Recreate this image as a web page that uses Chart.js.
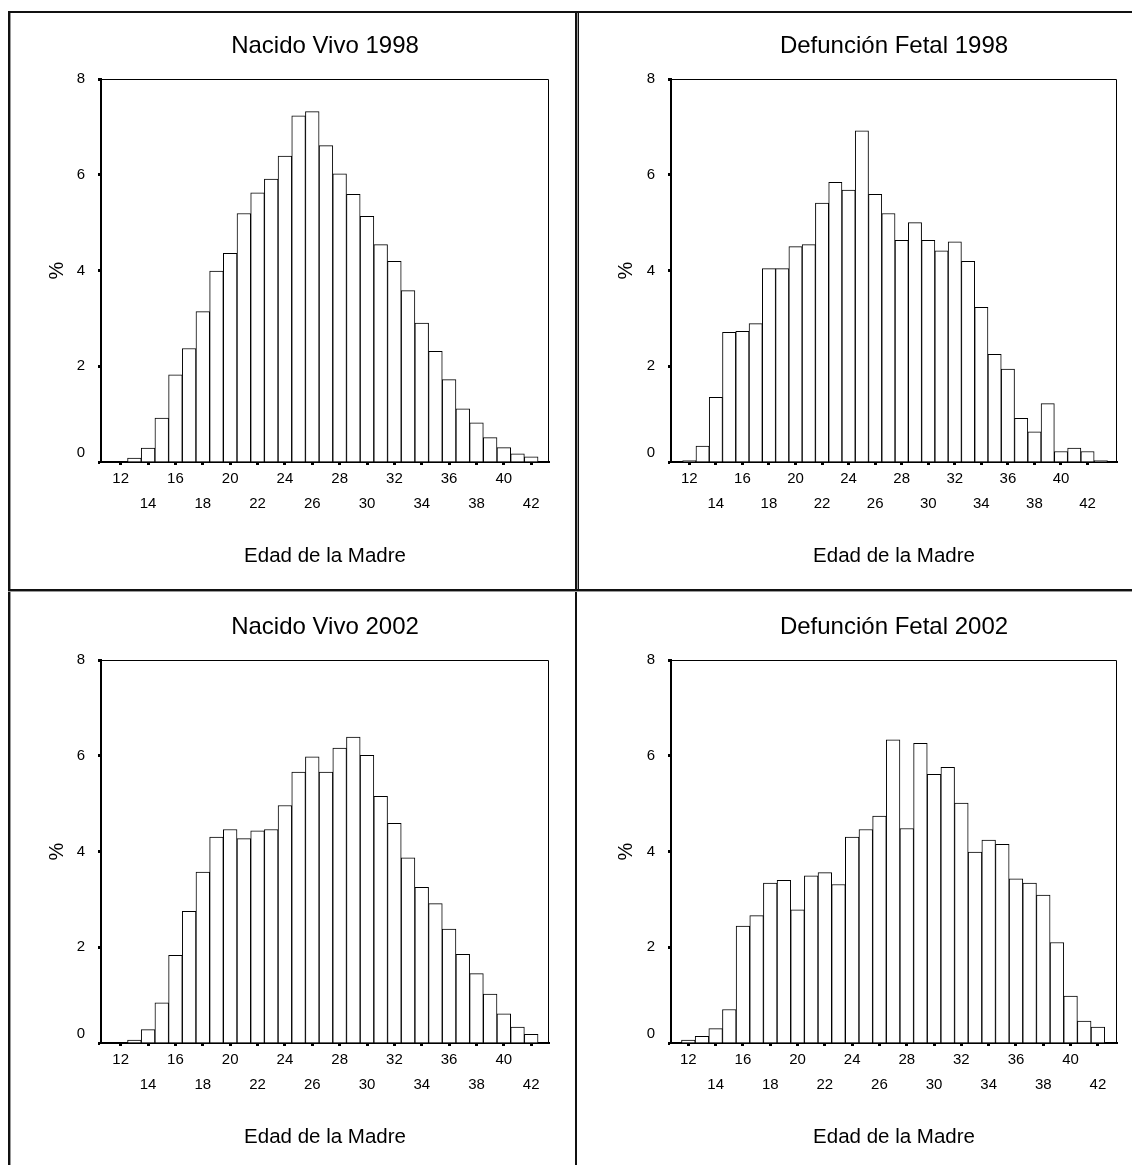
<!DOCTYPE html>
<html>
<head>
<meta charset="utf-8">
<script src="https://cdn.jsdelivr.net/npm/chart.js@4.4.1/dist/chart.umd.min.js"></script>
<style>
html,body{margin:0;padding:0;background:#fff;}
body{width:1132px;height:1165px;position:relative;overflow:hidden;}
canvas{position:absolute;}
.ln{position:absolute;background:#111;}
.gr{position:absolute;background:#999;}
</style>
</head>
<body>
<div class="ln" style="left:8px;top:11px;width:1124px;height:2px"></div>
<div class="ln" style="left:8px;top:11px;width:2px;height:1154px"></div>
<div class="gr" style="left:10px;top:13px;width:1px;height:1152px"></div>
<div class="ln" style="left:575px;top:11px;width:2px;height:1154px"></div>
<div class="gr" style="left:577px;top:13px;width:1px;height:576px"></div>
<div class="ln" style="left:578px;top:11px;width:1px;height:578px"></div>
<div class="ln" style="left:8px;top:589px;width:1124px;height:2px"></div>
<div class="gr" style="left:8px;top:591px;width:1124px;height:1px"></div>

<canvas id="c1" width="565" height="576" style="left:10px;top:13px"></canvas>
<canvas id="c2" width="553" height="576" style="left:579px;top:13px"></canvas>
<canvas id="c3" width="565" height="576" style="left:10px;top:594px"></canvas>
<canvas id="c4" width="553" height="576" style="left:579px;top:594px"></canvas>

<script>
// ---- data ----
const panelTitles = ['Nacido Vivo 1998', 'Defunción Fetal 1998', 'Nacido Vivo 2002', 'Defunción Fetal 2002'];
const xAxisTitle = 'Edad de la Madre';
const yAxisTitle = '%';

const xTickValues = [12, 14, 16, 18, 20, 22, 24, 26, 28, 30, 32, 34, 36, 38, 40, 42];
const xTickRow1 = [12, 16, 20, 24, 28, 32, 36, 40];
const xTickRow2 = [14, 18, 22, 26, 30, 34, 38, 42];
const yTickValues = [0, 2, 4, 6, 8];

const agesNV98 = [13,14,15,16,17,18,19,20,21,22,23,24,25,26,27,28,29,30,31,32,33,34,35,36,37,38,39,40,41,42];
const pctNV98  = [0.08,0.29,0.92,1.82,2.37,3.14,3.99,4.36,5.19,5.62,5.91,6.39,7.23,7.32,6.61,6.02,5.59,5.13,4.54,4.19,3.58,2.90,2.31,1.72,1.11,0.82,0.51,0.30,0.17,0.11];

const agesDF98 = [12,13,14,15,16,17,18,19,20,21,22,23,24,25,26,27,28,29,30,31,32,33,34,35,36,37,38,39,40,41,42,43];
const pctDF98  = [0.03,0.33,1.35,2.71,2.73,2.89,4.04,4.04,4.50,4.54,5.41,5.84,5.68,6.92,5.59,5.19,4.63,5.00,4.63,4.41,4.60,4.19,3.23,2.25,1.94,0.91,0.63,1.22,0.22,0.29,0.22,0.03];

const agesNV02 = [13,14,15,16,17,18,19,20,21,22,23,24,25,26,27,28,29,30,31,32,33,34,35,36,37,38,39,40,41,42];
const pctNV02  = [0.06,0.28,0.84,1.83,2.75,3.57,4.30,4.46,4.27,4.43,4.46,4.96,5.66,5.98,5.66,6.16,6.39,6.01,5.15,4.59,3.87,3.25,2.91,2.38,1.85,1.45,1.02,0.61,0.33,0.18];

const agesDF02 = [12,13,14,15,16,17,18,19,20,21,22,23,24,25,26,27,28,29,30,31,32,33,34,35,36,37,38,39,40,41,42];
const pctDF02  = [0.06,0.14,0.30,0.70,2.44,2.66,3.34,3.40,2.78,3.49,3.56,3.31,4.30,4.46,4.74,6.33,4.48,6.26,5.61,5.76,5.01,3.99,4.24,4.15,3.43,3.34,3.09,2.10,0.98,0.46,0.33];

// ---- rendering ----
const FF = '"Liberation Sans", Arial, Helvetica, sans-serif';

const framePlugin = {
  id: 'frame',
  afterDraw(chart) {
    const {ctx, chartArea: a} = chart;
    ctx.save();
    ctx.strokeStyle = '#000';
    ctx.lineWidth = 1;
    ctx.beginPath();
    ctx.moveTo(a.left, a.top + 0.5);
    ctx.lineTo(a.right - 0.5, a.top + 0.5);
    ctx.lineTo(a.right - 0.5, a.bottom);
    ctx.stroke();
    ctx.restore();
  }
};

function makeChart(id, title, ages, vals, xMin, xMax, padRight, yWidth) {
  const pts = ages.map((a, i) => ({x: a, y: vals[i]}));
  new Chart(document.getElementById(id), {
    type: 'bar',
    data: {
      datasets: [{
        data: pts,
        backgroundColor: '#ffffff',
        borderColor: '#000000',
        borderWidth: 1,
        barPercentage: 1,
        categoryPercentage: 1
      }]
    },
    options: {
      responsive: false,
      animation: false,
      devicePixelRatio: 1,
      layout: {padding: {left: 0, right: padRight, top: 0, bottom: 0}},
      plugins: {
        legend: {display: false},
        tooltip: {enabled: false},
        title: {
          display: true, text: title, fullSize: false, color: '#000',
          font: {family: FF, size: 24, weight: 'normal'},
          padding: {top: 18.6, bottom: 18.6}
        }
      },
      scales: {
        x: {
          type: 'linear', min: xMin, max: xMax, offset: false,
          afterBuildTicks: s => { s.ticks = xTickValues.map(v => ({value: v})); },
          afterFit: s => { s.height = 127; },
          grid: {display: true, drawOnChartArea: false, drawTicks: true, tickLength: 3, tickWidth: 3, tickColor: '#000', offset: false},
          border: {display: true, color: '#000', width: 2},
          ticks: {
            autoSkip: false, maxRotation: 0, minRotation: 0, padding: 1.5, color: '#000',
            font: {family: FF, size: 15, lineHeight: 25 / 15},
            callback: v => xTickRow1.includes(v) ? [String(v), ''] : (xTickRow2.includes(v) ? ['', String(v)] : '')
          },
          title: {display: true, text: xAxisTitle, color: '#000', font: {family: FF, size: 20.5}, padding: {top: 0, bottom: 20.7}}
        },
        y: {
          min: 0, max: 8,
          afterBuildTicks: s => { s.ticks = yTickValues.map(v => ({value: v})); },
          afterFit: s => { s.width = yWidth; },
          grid: {display: true, drawOnChartArea: false, drawTicks: true, tickLength: 3, tickWidth: 3, tickColor: '#000'},
          border: {display: true, color: '#000', width: 2},
          ticks: {
            padding: 13, color: '#000',
            font: {family: FF, size: 15},
            callback: v => v === 0 ? ['0', ''] : String(v)
          },
          title: {display: true, text: yAxisTitle, color: '#000', font: {family: FF, size: 20}, padding: {top: 35, bottom: 0}}
        }
      }
    },
    plugins: [framePlugin]
  });
}

makeChart('c1', panelTitles[0], agesNV98, pctNV98, 10.56, 43.3, 26, 91);
makeChart('c2', panelTitles[1], agesDF98, pctDF98, 10.62, 44.22, 15, 92);
makeChart('c3', panelTitles[2], agesNV02, pctNV02, 10.56, 43.3, 26, 91);
makeChart('c4', panelTitles[3], agesDF02, pctDF02, 10.73, 43.4, 15, 92);
</script>
</body>
</html>
